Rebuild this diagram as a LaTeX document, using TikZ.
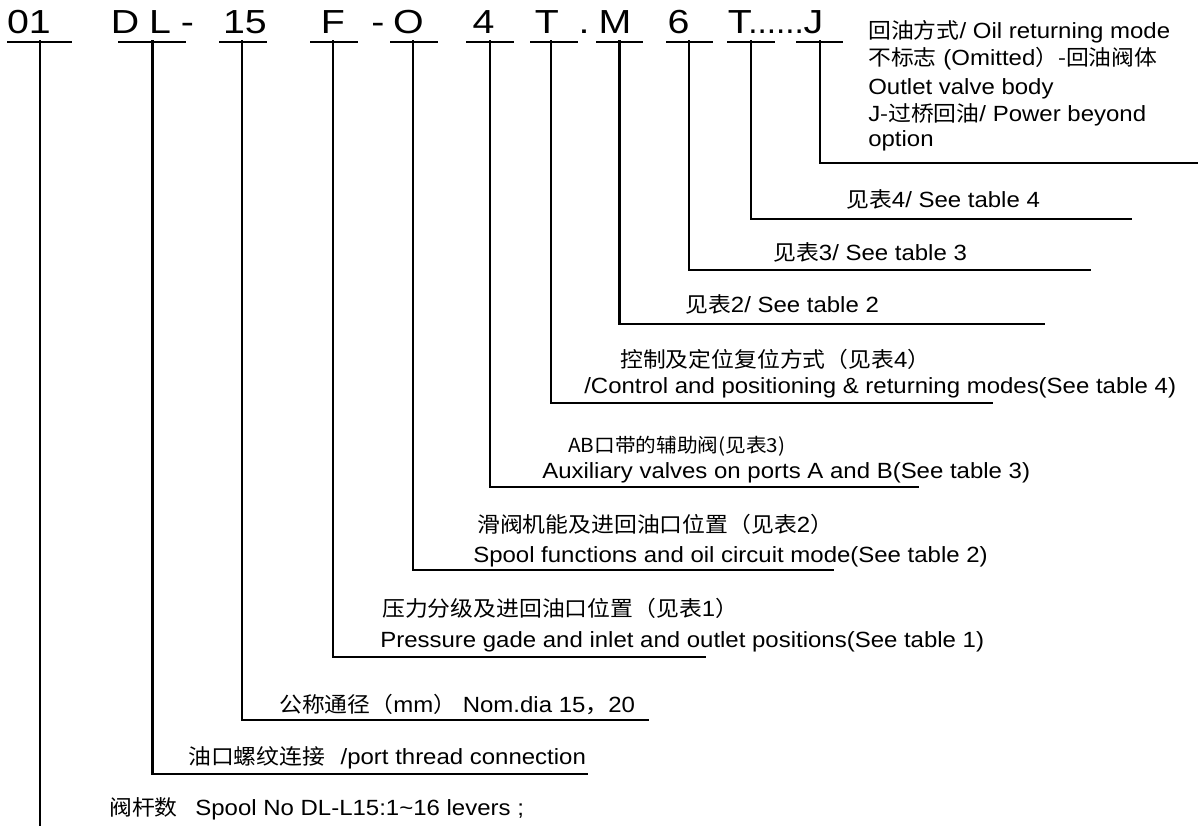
\documentclass[tikz,border=0pt]{standalone}
\usepackage{fontspec}
\setmainfont{Liberation Sans}[FakeStretch=1.09]
\newfontfamily\codefont{Liberation Sans}[FakeStretch=1.18]
\newfontfamily\dotfont{Liberation Sans}
\newfontfamily\cjk{Noto Sans CJK SC}[FakeStretch=1.07]
\newcommand{\zh}[1]{{\cjk\fontsize{16}{20}\selectfont #1}}
\begin{document}
\begin{tikzpicture}[x=0.75pt,y=-0.75pt,
  code/.style={anchor=base, inner sep=0pt, font=\codefont\fontsize{25}{30}\selectfont},
  lbl/.style={anchor=base west, inner sep=0pt, font=\fontsize{16.5}{20}\selectfont},
  ln/.style={line width=1.8pt, line cap=rect},
  ul/.style={line width=1.5pt}]
\useasboundingbox (0,0) rectangle (1198,825);
\fill[white] (0,0) rectangle (1198,825);

% code glyphs
\node[code] (c01) at (29,33) {01};
\node[code] (cD) at (125,33) {D};
\node[code] (cL) at (160,33) {L};
\node[code] (cd1) at (187.5,33) {-};
\node[code] (c15) at (245,33) {15};
\node[code] (cF) at (333,33) {F};
\node[code] (cd2) at (378,33) {-};
\node[code] (cO) at (408.5,33) {O};
\node[code] (c4) at (483.5,33) {4};
\node[code] (cT) at (547,33) {T};
\node[code] (cdot) at (584,33) {.};
\node[code] (cM) at (615,33) {M};
\node[code] (c6) at (678.5,33) {6};
\node[code] (cT2) at (740,33) {T};
\node[code, anchor=base west, font=\dotfont\fontsize{25}{30}\selectfont] (cdots) at (748,33) {......};
\node[code] (cJ) at (813.5,33) {J};

% underlines
\foreach \a/\b in {7/72,118/186,219/267,310/358,390/438,466/514,530/578,596/643,666/713,727/775,796/843}
  \draw[ul] (\a,41.5) -- (\b,41.5);

% connector start/end coordinates
\coordinate (s01) at (40,41.5);    \coordinate (e01) at (40,825);
\coordinate (sDL) at (152.5,41.5); \coordinate (eDL) at (587,774);
\coordinate (s15) at (242,41.5);   \coordinate (e15) at (648,720);
\coordinate (sF) at (333,41.5);    \coordinate (eF) at (705,657);
\coordinate (sO) at (413,41.5);    \coordinate (eO) at (833,570);
\coordinate (s4) at (490,41.5);    \coordinate (e4) at (918,487);
\coordinate (sT) at (551,41.5);    \coordinate (eT) at (992,403);
\coordinate (sM) at (619.5,41.5);  \coordinate (eM) at (1044,324);
\coordinate (s6) at (689,41.5);    \coordinate (e6) at (1090,270);
\coordinate (sT2) at (751,41.5);   \coordinate (eT2) at (1131,219);
\coordinate (sJ) at (820,41.5);    \coordinate (eJ) at (1198,163);

\draw[ln] (s01) -- (e01);
\foreach \n in {DL,15,F,O,4,T,M,6,T2,J}
  \draw[ln] (s\n) |- (e\n);

% J block
\node[lbl] (tJ1) at (868,38) {\zh{回油方式}/ Oil returning mode};
\node[lbl] (tJ2) at (868,65) {\zh{不标志} (Omitted\zh{）-回油阀体}};
\node[lbl] (tJ3) at (868,94) {Outlet valve body};
\node[lbl] (tJ4) at (868,121) {J\zh{-过桥回油}/ Power beyond};
\node[lbl] (tJ5) at (868,146) {option};

\node[lbl] (tT2) at (846,207) {\zh{见表}4/ See table 4};
\node[lbl] (t6) at (773,260) {\zh{见表}3/ See table 3};
\node[lbl] (tM) at (685,312) {\zh{见表}2/ See table 2};
\node[lbl] (tTa) at (620,367) {\zh{控制及定位复位方式（见表}4\zh{）}};
\node[lbl] (tTb) at (584,393) {/Control and positioning \& returning modes(See table 4)};
\node[lbl] (t4a) at (568,452) {{\cjk\fontsize{14.5}{18}\selectfont AB口带的辅助阀(见表3)}};
\node[lbl] (t4b) at (542,478) {Auxiliary valves on ports A and B(See table 3)};
\node[lbl] (tOa) at (477,532) {\zh{滑阀机能及进回油口位置（见表}2\zh{）}};
\node[lbl] (tOb) at (473,562) {Spool functions and oil circuit mode(See table 2)};
\node[lbl] (tFa) at (382,616) {\zh{压力分级及进回油口位置（见表}1\zh{）}};
\node[lbl] (tFb) at (380,647) {Pressure gade and inlet and outlet positions(See table 1)};
\node[lbl] (t15) at (279,712) {\zh{公称通径（}mm\zh{）} Nom.dia 15\zh{，}20};
\node[lbl] (tDL) at (188,764) {\zh{油口螺纹连接}\hspace{0.7em}/port thread connection};
\node[lbl] (t01) at (109,815) {\zh{阀杆数}\hspace{0.5em} Spool No DL-L15:1\textasciitilde16 levers ;};
\end{tikzpicture}
\end{document}
